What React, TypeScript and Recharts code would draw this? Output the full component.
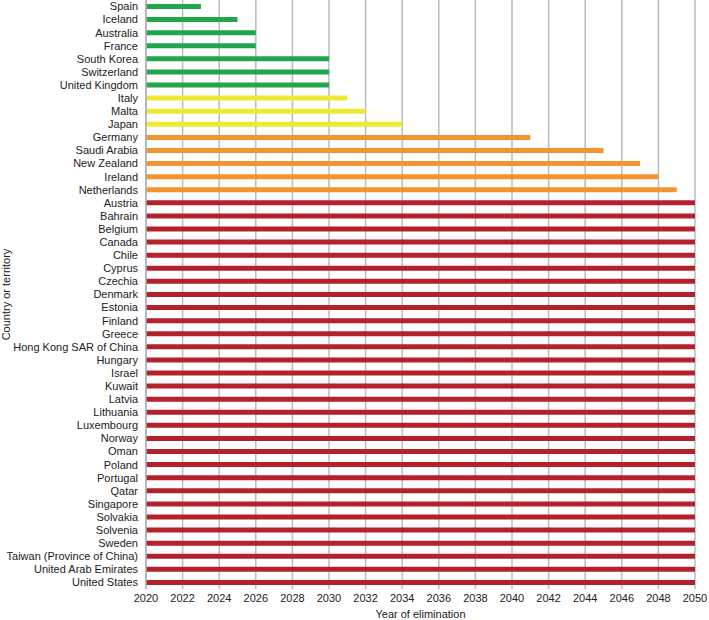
import React from 'react';
import { BarChart, Bar, XAxis, YAxis, CartesianGrid, Cell } from 'recharts';

const countries = [
  'Spain', 'Iceland', 'Australia', 'France', 'South Korea', 'Switzerland', 'United Kingdom',
  'Italy', 'Malta', 'Japan',
  'Germany', 'Saudi Arabia', 'New Zealand', 'Ireland', 'Netherlands',
  'Austria', 'Bahrain', 'Belgium', 'Canada', 'Chile', 'Cyprus', 'Czechia', 'Denmark', 'Estonia',
  'Finland', 'Greece', 'Hong Kong SAR of China', 'Hungary', 'Israel', 'Kuwait', 'Latvia',
  'Lithuania', 'Luxembourg', 'Norway', 'Oman', 'Poland', 'Portugal', 'Qatar', 'Singapore',
  'Solvakia', 'Solvenia', 'Sweden', 'Taiwan (Province of China)', 'United Arab Emirates',
  'United States',
];

const years = [
  2023, 2025, 2026, 2026, 2030, 2030, 2030,
  2031, 2032, 2034,
  2041, 2045, 2047, 2048, 2049,
  2050, 2050, 2050, 2050, 2050, 2050, 2050, 2050, 2050,
  2050, 2050, 2050, 2050, 2050, 2050, 2050,
  2050, 2050, 2050, 2050, 2050, 2050, 2050, 2050,
  2050, 2050, 2050, 2050, 2050,
  2050,
];

const tiers = [
  'green', 'green', 'green', 'green', 'green', 'green', 'green',
  'yellow', 'yellow', 'yellow',
  'orange', 'orange', 'orange', 'orange', 'orange',
  'red', 'red', 'red', 'red', 'red', 'red', 'red', 'red', 'red',
  'red', 'red', 'red', 'red', 'red', 'red', 'red',
  'red', 'red', 'red', 'red', 'red', 'red', 'red', 'red',
  'red', 'red', 'red', 'red', 'red',
  'red',
];

const xTicks = [2020, 2022, 2024, 2026, 2028, 2030, 2032, 2034, 2036, 2038, 2040, 2042, 2044, 2046, 2048, 2050];

const tierColors: Record<string, string> = {
  green: '#21a64b',
  yellow: '#eeea33',
  orange: '#f29430',
  red: '#b5202d',
};

const data = countries.map((c, i) => ({ country: c, year: years[i], tier: tiers[i] }));

const font = '"Liberation Sans", Arial, Helvetica, sans-serif';

const YTick = (props: any) => {
  const { x, y, payload } = props;
  return (
    <text x={x} y={y} dy="0.35em" textAnchor="end" fontSize={11} fill="#222" fontFamily={font}>
      {payload.value}
    </text>
  );
};

const YLabel = (props: any) => {
  const vb = props.viewBox || {};
  const cy = (vb.y ?? 0) + (vb.height ?? 0) / 2;
  const cx = 10;
  return (
    <text x={cx} y={cy} transform={`rotate(-90, ${cx}, ${cy})`} textAnchor="middle" fontSize={11} fill="#222" fontFamily={font}>
      Country or territory
    </text>
  );
};

export default function App() {
  return (
    <div style={{ position: 'absolute', left: 0, top: 0, width: 709, height: 620, background: '#fff' }}>
      <BarChart
        width={709}
        height={620}
        data={data}
        layout="vertical"
        margin={{ top: 0, right: 14, left: 0, bottom: 0 }}
        barCategoryGap={0}
      >
        <CartesianGrid horizontal={false} vertical={true} stroke="#bcbcbc" strokeWidth={1.5} />
        <XAxis
          type="number"
          dataKey="year"
          domain={[2020, 2050]}
          ticks={xTicks}
          interval={0}
          axisLine={false}
          tickLine={false}
          tickSize={0}
          tickMargin={5}
          height={31}
          tick={{ fontSize: 11, fill: '#222', fontFamily: font }}
          label={{ value: 'Year of elimination', position: 'insideBottom', offset: 2, fontSize: 11, fill: '#222', fontFamily: font }}
        />
        <YAxis
          type="category"
          dataKey="country"
          width={146}
          interval={0}
          tickLine={false}
          axisLine={{ stroke: '#b0b0b0', strokeWidth: 1.5 }}
          tickMargin={8}
          tickSize={0}
          tick={<YTick />}
          label={<YLabel />}
        />
        <Bar dataKey="year" barSize={5} isAnimationActive={false}>
          {data.map((d, i) => (
            <Cell key={i} fill={tierColors[d.tier]} />
          ))}
        </Bar>
      </BarChart>
    </div>
  );
}
